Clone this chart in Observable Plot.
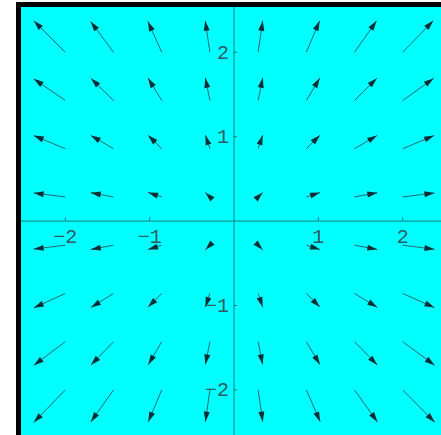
<!DOCTYPE html>
<html>
<head>
<meta charset="utf-8">
<script src="https://cdn.jsdelivr.net/npm/d3@7"></script>
<script src="https://cdn.jsdelivr.net/npm/@observablehq/plot@0.6"></script>
<style>
  html, body { margin: 0; padding: 0; background: #ffffff; }
  #frame {
    position: absolute; left: 16px; top: 2px;
    border-left: 5px solid #000; border-top: 5px solid #000;
    line-height: 0;
  }
  #frame svg { display: block; }
</style>
</head>
<body>
<div id="frame"></div>
<script>
// Sample points of the field (arrow tails)
const xs = [-2, -1.4286, -0.8571, -0.2857, 0.2857, 0.8571, 1.4286, 2];
const ys = [2, 1.4286, 0.8571, 0.2857, -0.2857, -0.8571, -1.4286, -2];

// Horizontal component of each arrow, one row per y value (top to bottom)
const u = [
  [-0.375, -0.272, -0.165, -0.056, 0.055, 0.158, 0.262, 0.362],
  [-0.375, -0.268, -0.163, -0.055, 0.055, 0.160, 0.265, 0.368],
  [-0.375, -0.270, -0.162, -0.054, 0.054, 0.162, 0.268, 0.372],
  [-0.376, -0.270, -0.162, -0.054, 0.054, 0.162, 0.270, 0.376],
  [-0.376, -0.270, -0.162, -0.054, 0.054, 0.162, 0.270, 0.376],
  [-0.374, -0.268, -0.162, -0.054, 0.054, 0.162, 0.270, 0.376],
  [-0.374, -0.268, -0.160, -0.054, 0.054, 0.162, 0.270, 0.378],
  [-0.376, -0.270, -0.160, -0.054, 0.055, 0.165, 0.272, 0.380]
];

// Vertical component of each arrow, same layout
const v = [
  [0.373, 0.365, 0.365, 0.373, 0.372, 0.372, 0.372, 0.374],
  [0.256, 0.262, 0.265, 0.268, 0.268, 0.266, 0.264, 0.262],
  [0.156, 0.158, 0.160, 0.161, 0.161, 0.160, 0.158, 0.156],
  [0.048, 0.050, 0.052, 0.054, 0.054, 0.052, 0.050, 0.048],
  [-0.046, -0.050, -0.052, -0.054, -0.054, -0.052, -0.050, -0.048],
  [-0.170, -0.166, -0.162, -0.161, -0.161, -0.162, -0.165, -0.168],
  [-0.280, -0.276, -0.272, -0.270, -0.270, -0.272, -0.275, -0.278],
  [-0.385, -0.380, -0.378, -0.376, -0.376, -0.378, -0.380, -0.384]
];

// Axis ticks and their labels
const tickValues = [-2, -1, 1, 2];
const tickLabels = ["\u22122", "\u22121", "1", "2"];

const arrows = [];
ys.forEach((y, i) => xs.forEach((x, j) => {
  arrows.push({x, y, u: u[i][j], v: v[i][j]});
}));

// Narrow filled arrowhead with its tip at the origin, pointing up
const arrowHead = {
  draw(context) {
    context.moveTo(0, 0);
    context.lineTo(3, 10);
    context.lineTo(-3, 10);
    context.closePath();
  }
};

const axisColor = "#1d7a80";
const labelColor = "#2e5c62";
const font = "Liberation Mono, Courier New, monospace";

const chart = Plot.plot({
  width: 420,
  height: 428,
  margin: 0,
  x: {domain: [-2.52, 2.46], axis: null},
  y: {domain: [-2.54, 2.53], axis: null},
  style: {background: "#00ffff", overflow: "visible"},
  marks: [
    Plot.ruleX([0], {stroke: axisColor, strokeWidth: 1}),
    Plot.ruleY([0], {stroke: axisColor, strokeWidth: 1}),
    Plot.ruleX(tickValues, {y1: 0, y2: 0.04, stroke: axisColor}),
    Plot.ruleY(tickValues, {x1: 0, x2: 0.04, stroke: axisColor}),
    Plot.text(tickValues, {
      x: d => d, y: 0, text: (d, i) => tickLabels[i],
      dy: 16, fontFamily: font, fontSize: 20, fill: labelColor
    }),
    Plot.text(tickValues, {
      x: 0, y: d => d, text: (d, i) => tickLabels[i],
      dx: -5, textAnchor: "end", fontFamily: font, fontSize: 20, fill: labelColor
    }),
    Plot.link(arrows, {
      x1: "x", y1: "y",
      x2: d => d.x + d.u, y2: d => d.y + d.v,
      stroke: "#236a70", strokeWidth: 1
    }),
    Plot.dot(arrows, {
      x: d => d.x + d.u, y: d => d.y + d.v,
      symbol: arrowHead,
      rotate: d => Math.atan2(d.u, d.v) * 180 / Math.PI,
      fill: "#0c2e34", stroke: "none"
    })
  ]
});

document.getElementById("frame").appendChild(chart);
</script>
</body>
</html>
